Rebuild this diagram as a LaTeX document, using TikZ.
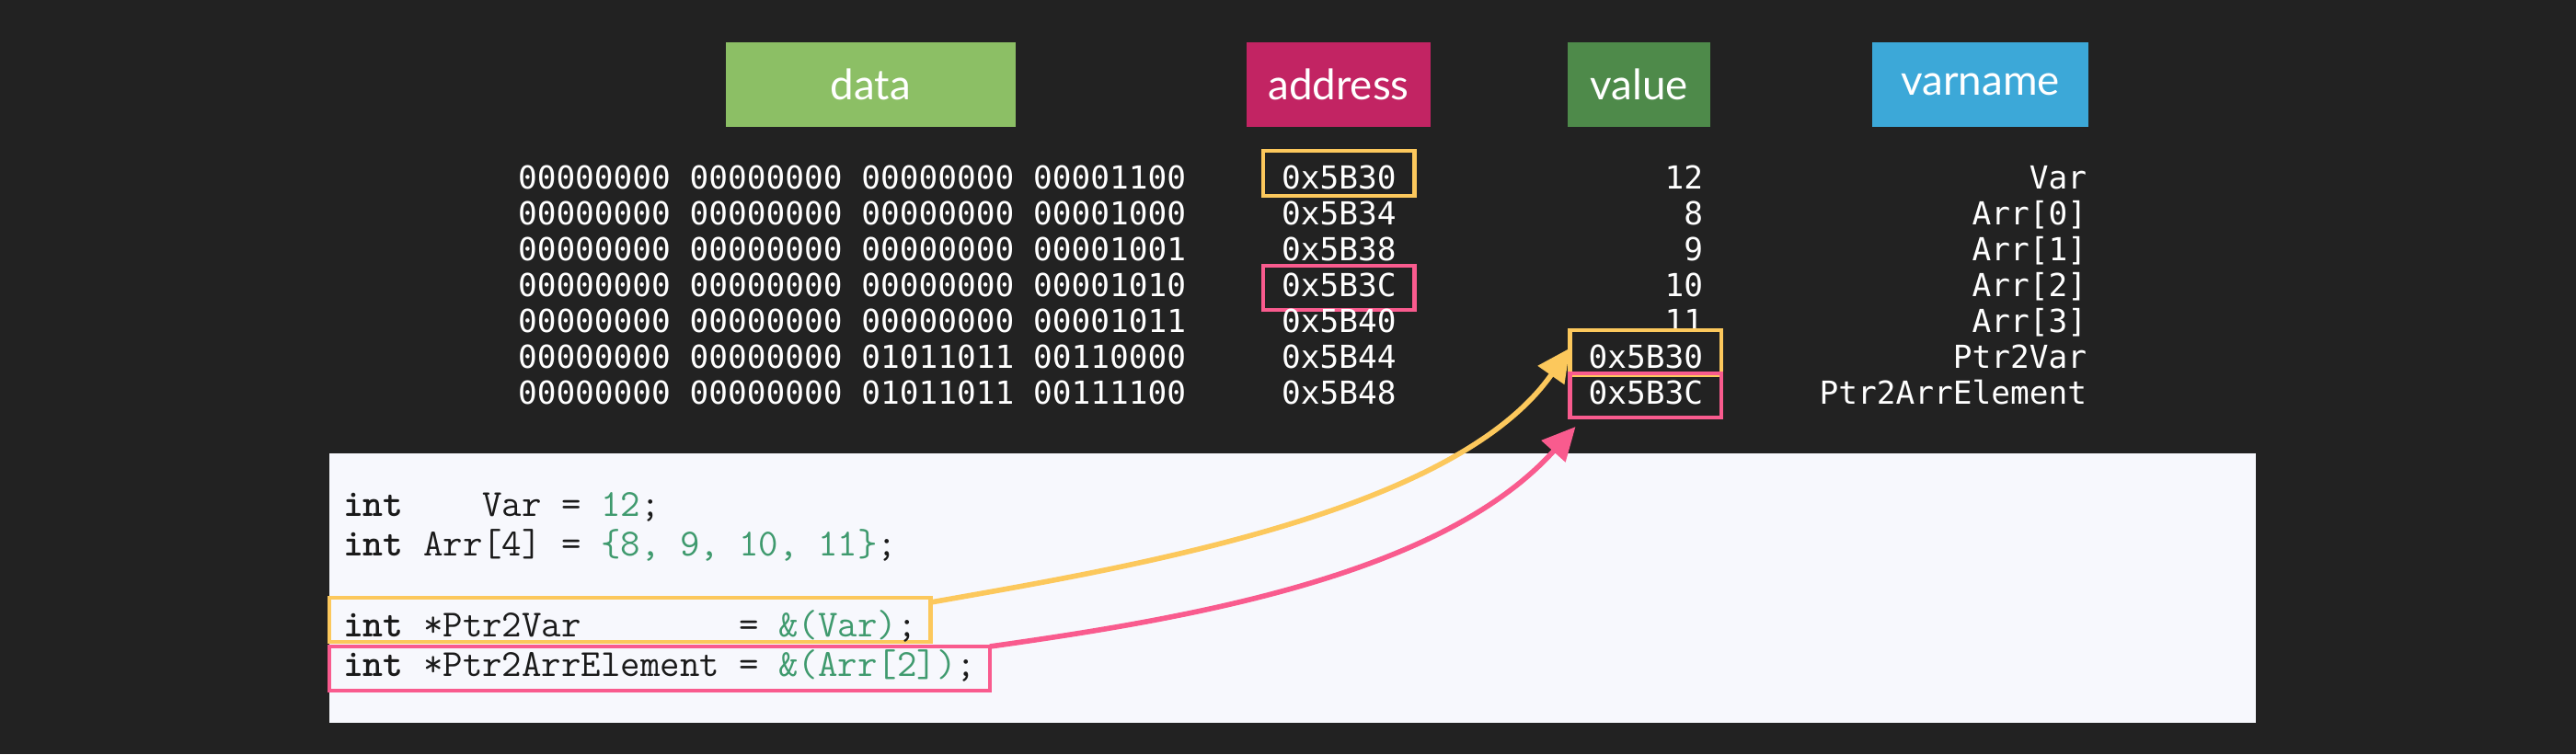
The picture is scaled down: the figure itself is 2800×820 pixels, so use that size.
\documentclass[tikz,border=0pt]{standalone}
\usepackage{fontspec}
\usepackage{xcolor}
\usepackage{tikz}
\usetikzlibrary{arrows.meta}

\newfontfamily\tablefont{DejaVu Sans Mono}
\newfontfamily\headfont{Lato}

\definecolor{bgdark}{HTML}{222222}
\definecolor{panelbg}{HTML}{F7F8FD}
\definecolor{datagreen}{HTML}{8CBF65}
\definecolor{addrred}{HTML}{C22463}
\definecolor{valgreen}{HTML}{4E8A4A}
\definecolor{nameblue}{HTML}{3CA8D8}
\definecolor{hlyellow}{HTML}{FCC85C}
\definecolor{hlpink}{HTML}{F95B8E}
\definecolor{codegreen}{HTML}{3F9A6E}
\definecolor{codeblack}{HTML}{1A1A1A}

\newcommand{\cnum}[1]{\textcolor{codegreen}{#1}}

\tikzset{
  header/.style={fill=#1, text=white, font=\headfont\fontsize{13}{15}\selectfont, minimum height=0.92cm, inner sep=0pt},
  cell/.style={text=white, font=\tablefont\fontsize{9.8}{11}\selectfont\frenchspacing, inner sep=0pt, outer sep=0pt},
  codeline/.style={text=codeblack, font=\ttfamily\fontsize{11.85}{14}\selectfont\frenchspacing, inner sep=0pt, outer sep=0pt, anchor=text},
  hlvar/.style={draw=hlyellow, line width=1.4pt, inner xsep=0.2cm, inner ysep=0.05cm, text height=0.36cm, text depth=0.03cm},
  hlarr/.style={draw=hlpink, line width=1.4pt, inner xsep=0.2cm, inner ysep=0.05cm, text height=0.28cm, text depth=0.1cm},
  pointer/.style={draw=#1, line width=1.6pt, -{Triangle[length=0.36cm,width=0.34cm]}}
}

\begin{document}
\begin{tikzpicture}[x=0.01cm, y=-0.01cm]
\fill[bgdark] (0,0) rectangle (2800,820);
\useasboundingbox (0,0) rectangle (2800,820);

% column heads
\node[header=datagreen, minimum width=3.15cm] (hdata) at (946.5,92) {data};
\node[header=addrred, minimum width=2cm] (haddr) at (1455,92) {address};
\node[header=valgreen, minimum width=1.55cm] (hval) at (1781.5,92) {value};
\node[header=nameblue, minimum width=2.34cm] (hname) at (2152.5,92) {varname};

% memory rows
\node[cell, anchor=text] (bitsvar) at (563,205) {00000000 00000000 00000000 00001100};
\node[cell, anchor=text] (bitsarr0) at (563,244) {00000000 00000000 00000000 00001000};
\node[cell, anchor=text] (bitsarr1) at (563,283) {00000000 00000000 00000000 00001001};
\node[cell, anchor=text] (bitsarr2) at (563,322) {00000000 00000000 00000000 00001010};
\node[cell, anchor=text] (bitsarr3) at (563,361) {00000000 00000000 00000000 00001011};
\node[cell, anchor=text] (bitsptrvar) at (563,400) {00000000 00000000 01011011 00110000};
\node[cell, anchor=text] (bitsptrarr) at (563,439) {00000000 00000000 01011011 00111100};

\node[cell, hlvar, anchor=text] (addrvar) at (1393,205) {0x5B30};
\node[cell, anchor=text] (addrarr0) at (1393,244) {0x5B34};
\node[cell, anchor=text] (addrarr1) at (1393,283) {0x5B38};
\node[cell, hlarr, anchor=text] (addrarr2) at (1393,322) {0x5B3C};
\node[cell, anchor=text] (addrarr3) at (1393,361) {0x5B40};
\node[cell, anchor=text] (addrptrvar) at (1393,400) {0x5B44};
\node[cell, anchor=text] (addrptrarr) at (1393,439) {0x5B48};

\node[cell, anchor=base east] (valvar) at (1851,205) {12};
\node[cell, anchor=base east] (valarr0) at (1851,244) {8};
\node[cell, anchor=base east] (valarr1) at (1851,283) {9};
\node[cell, anchor=base east] (valarr2) at (1851,322) {10};
\node[cell, anchor=base east] (valarr3) at (1851,361) {11};
\node[cell, hlvar, anchor=base east] (valptrvar) at (1871,400) {0x5B30};
\node[cell, hlarr, anchor=base east] (valptrarr) at (1871,439) {0x5B3C};

\node[cell, anchor=base east] (namevar) at (2268,205) {Var};
\node[cell, anchor=base east] (namearr0) at (2268,244) {Arr[0]};
\node[cell, anchor=base east] (namearr1) at (2268,283) {Arr[1]};
\node[cell, anchor=base east] (namearr2) at (2268,322) {Arr[2]};
\node[cell, anchor=base east] (namearr3) at (2268,361) {Arr[3]};
\node[cell, anchor=base east] (nameptrvar) at (2268,400) {Ptr2Var};
\node[cell, anchor=base east] (nameptrarr) at (2268,439) {Ptr2ArrElement};

% source code
\fill[panelbg] (358,493) rectangle (2452,786);
\node[codeline] (codevar) at (373,561) {\textbf{int}~~~~Var = \cnum{12};};
\node[codeline] (codearr) at (373,604) {\textbf{int} Arr[4] = \cnum{\{8, 9, 10, 11\}};};
\node[codeline, hlvar, inner xsep=0.15cm, text height=0.38cm, text depth=0.02cm, inner ysep=0.04cm] (codeptrvar) at (373,692) {\textbf{int} *Ptr2Var~~~~~~~~= \cnum{\&(Var)};};
\node[codeline, hlarr, inner xsep=0.15cm, text height=0.28cm, text depth=0.12cm, inner ysep=0.04cm] (codeptrarr) at (373,735) {\textbf{int} *Ptr2ArrElement = \cnum{\&(Arr[2])};};

\draw[pointer=hlyellow] ([yshift=-0.05cm]codeptrvar.north east) to[out=10, in=235, looseness=0.75] ([yshift=0.05cm]valptrvar.west);
\draw[pointer=hlpink] (codeptrarr.north east) to[out=8, in=228, looseness=0.82] ([xshift=0.06cm, yshift=-0.1cm]valptrarr.south west);
\end{tikzpicture}
\end{document}
